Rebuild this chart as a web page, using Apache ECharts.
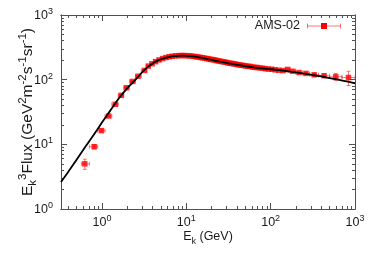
<!DOCTYPE html>
<html><head><meta charset="utf-8">
<script src="https://cdn.jsdelivr.net/npm/echarts@6/dist/echarts.min.js"></script>
<style>html,body{margin:0;padding:0;background:#fff}#c{width:374px;height:262px}</style>
</head><body><div id="c"></div><script>
// ---- data (AMS-02 points) ----
const energy = [0.626, 0.809, 0.986, 1.20, 1.44, 1.69, 1.95, 2.31, 2.68, 3.21,
  3.54, 3.92, 4.32, 4.76, 5.24, 5.74, 6.26, 6.80, 7.39, 8.00,
  8.62, 9.28, 9.96, 10.7, 11.4, 12.2, 13.0, 13.8, 14.7, 15.6,
  16.5, 17.5, 18.5, 19.5, 20.6, 21.7, 22.8, 24.0, 25.2, 26.6,
  27.9, 29.4, 31.0, 32.7, 34.4, 36.3, 38.3, 40.5, 42.8, 45.3,
  47.9, 50.8, 53.9, 57.3, 61.0, 65.1, 69.6, 74.7, 80.3, 86.7,
  94.0, 102.6, 113, 125, 140,
  159, 183, 217, 262, 328, 430, 592, 837];
const flux = [5.0, 9.2, 16.3, 27.4, 41.6, 57.2, 75, 94, 113, 139,
  162, 176, 190, 202, 212, 220, 226, 230, 233, 235,
  236, 236, 235, 234, 232, 229, 227, 224, 221, 218,
  215, 212, 209, 206, 204, 201, 198, 195, 193, 190,
  188, 186, 182, 180, 178, 176, 174, 171, 169, 167,
  165, 163, 161, 160, 157, 155, 154, 152, 150, 148,
  146, 145, 142, 140, 138,
  144, 135, 129, 125, 119, 115, 111, 108];
const fluxErr = [0.9, 0.7, 0.9, 1.0, 1.3, 1.5, 1.8, 2.0, 2.3, 2.7,
  3, 3, 3, 3, 3, 3, 3, 3, 3, 3,
  3, 3, 3, 3, 3, 3, 3, 3, 3, 3,
  3, 3, 3, 3, 3, 3, 3, 3, 3, 3,
  3, 3, 3, 3, 3, 3, 3, 3, 3, 3,
  3, 3, 3, 3, 3, 3, 3, 3, 3, 3,
  3, 3, 4, 4, 4,
  5, 4, 4, 5, 6, 7, 14, 27];
const binEdges = [0.57, 0.71, 0.89, 1.09, 1.31, 1.56, 1.82, 2.12, 2.49, 2.93, 3.36,
  3.73, 4.12, 4.54, 5.0, 5.49, 6.0, 6.54, 7.1, 7.69, 8.3,
  8.95, 9.62, 10.32, 11.04, 11.8, 12.59, 13.41, 14.25, 15.14, 16.05,
  17.0, 17.98, 18.99, 20.04, 21.13, 22.25, 23.42, 24.62, 25.9, 27.25,
  28.68, 30.21, 31.82, 33.53, 35.36, 37.31, 39.39, 41.61, 44.0, 46.57,
  49.33, 52.33, 55.58, 59.13, 63.02, 67.3, 72.05, 77.37, 83.36, 90.19,
  98.08, 107.3, 118.4, 132.1, 148.8,
  169.9, 197.7, 237.2, 290.0, 370.0, 500.0, 700.0, 1000.0];
// ---- model curve ----
const modelEnergy = [0.327, 0.4, 0.5, 0.63, 0.8, 1.0, 1.26, 1.58, 2.0, 2.38, 2.7, 3.12, 3.6, 4.0, 4.5, 5.0, 5.6, 6.4, 7.2, 8.0, 9.0, 10, 11.2, 12.6, 14.1, 16, 18, 20, 25, 31.6, 40, 50, 63, 80, 100, 126, 158, 200, 251, 316, 398, 501, 631, 794, 1000];
const modelFlux = [2.62, 3.77, 5.77, 9.0, 14.1, 21.7, 33.5, 51, 74, 93, 112, 138, 162, 178, 195, 207, 217, 226, 231, 234, 235, 234, 231, 227, 222, 215, 208, 202, 190, 179, 169, 162, 155, 149, 145, 140, 135, 130, 124, 118, 112, 106, 100, 94, 88];
// ---- axes ----
const xRange = [0.327, 1000];
const yRange = [1, 1000];
const xMajorTicks = [1, 10, 100, 1000];
const xMinorTicks = [0.4, 0.5, 0.6, 0.7, 0.8, 0.9, 2, 3, 4, 5, 6, 7, 8, 9, 20, 30, 40, 50, 60, 70, 80, 90, 200, 300, 400, 500, 600, 700, 800, 900];
const yMajorTicks = [1, 10, 100, 1000];
const yMinorTicks = [2, 3, 4, 5, 6, 7, 8, 9, 20, 30, 40, 50, 60, 70, 80, 90, 200, 300, 400, 500, 600, 700, 800, 900];
const seriesName = 'AMS-02';

const L = Math.log10;
const FONT = '"Liberation Sans", Arial, sans-serif';
const TXT = '#1a1a1a';
const FRAME = '#505050';

const labelRich = {
  b: { fontSize: 12.5, fontFamily: FONT, color: TXT, lineHeight: 14, verticalAlign: 'bottom' },
  s: { fontSize: 9, fontFamily: FONT, color: TXT, lineHeight: 9, padding: [0, 0, 6, 0], verticalAlign: 'bottom' }
};
const nameRich = {
  n: { fontSize: 12.5, fontFamily: FONT, color: TXT, lineHeight: 14, padding: [0, 0, 3, 0], verticalAlign: 'bottom' },
  sub: { fontSize: 9, fontFamily: FONT, color: TXT, lineHeight: 9, verticalAlign: 'bottom' },
  sup: { fontSize: 9, fontFamily: FONT, color: TXT, lineHeight: 9, padding: [0, 0, 9, 0], verticalAlign: 'bottom' }
};
const yNameRich = {
  n: { fontSize: 15.5, fontFamily: FONT, color: TXT, lineHeight: 17, padding: [0, 0, 3, 0], verticalAlign: 'bottom' },
  sub: { fontSize: 11.5, fontFamily: FONT, color: TXT, lineHeight: 11, verticalAlign: 'bottom' },
  sup: { fontSize: 11.5, fontFamily: FONT, color: TXT, lineHeight: 11, padding: [0, 0, 10, 0], verticalAlign: 'bottom' }
};
const fmt = v => '{b|10}{s|' + Math.round(v) + '}';

function mkAxis(dim, gridIndex, position, ticks, len, opts) {
  const range = dim === 'x' ? xRange : yRange;
  const a = {
    type: 'value', gridIndex, position,
    min: L(range[0]), max: L(range[1]),
    splitLine: { show: false },
    axisLine: { show: true, onZero: false, lineStyle: { color: FRAME, width: 1 } },
    axisTick: { show: true, inside: true, length: len, customValues: ticks.map(L), lineStyle: { color: FRAME, width: 1 } },
    axisLabel: { show: false }
  };
  return Object.assign(a, opts || {});
}

const xAxes = [
  mkAxis('x', 0, 'bottom', xMajorTicks, 6, {
    axisLabel: { show: true, customValues: xMajorTicks.map(L), formatter: fmt, rich: labelRich, margin: 6 },
    name: '{n|E}{sub|k}{n| (GeV)}', nameLocation: 'middle', nameGap: 23, nameMoveOverlap: false,
    nameTextStyle: { rich: nameRich }
  }),
  mkAxis('x', 0, 'top', xMajorTicks, 6),
  mkAxis('x', 1, 'bottom', xMinorTicks, 3),
  mkAxis('x', 1, 'top', xMinorTicks, 3)
];
const yAxes = [
  mkAxis('y', 0, 'left', yMajorTicks, 6, {
    axisLabel: { show: true, customValues: yMajorTicks.map(L), formatter: fmt, rich: labelRich, margin: 8 },
    name: '{n|E}{sub|k}{sup|3}{n|Flux (GeV}{sup|2}{n|m}{sup|-2}{n|s}{sup|-1}{n|sr}{sup|-1}{n|)}',
    nameLocation: 'middle', nameGap: 22, nameRotate: 90, nameMoveOverlap: false,
    nameTextStyle: { rich: yNameRich }
  }),
  mkAxis('y', 0, 'right', yMajorTicks, 6),
  mkAxis('y', 1, 'left', yMinorTicks, 3),
  mkAxis('y', 1, 'right', yMinorTicks, 3)
];

const pointData = energy.map((e, i) => [L(e), L(flux[i])]);
const errData = energy.map((e, i) => [L(e), L(flux[i]), L(binEdges[i]), L(binEdges[i + 1]), L(flux[i] - fluxErr[i]), L(flux[i] + fluxErr[i])]);
const modelData = modelEnergy.map((e, i) => [L(e), L(modelFlux[i])]);

const ERR = 'rgba(255,30,30,0.6)';
const gridBox = { left: 61, right: 19, top: 15, bottom: 53, containLabel: false, outerBoundsMode: 'none' };
const chart = echarts.init(document.getElementById('c'), null, { renderer: 'canvas' });
chart.setOption({
  animation: false,
  backgroundColor: '#fff',
  grid: [Object.assign({}, gridBox), Object.assign({}, gridBox)],
  xAxis: xAxes,
  yAxis: yAxes,
  graphic: [
    { type: 'text', right: 74, top: 19, style: { text: seriesName, font: '12.5px ' + FONT, fill: TXT } },
    { type: 'line', shape: { x1: 307, y1: 26, x2: 341, y2: 26 }, style: { stroke: ERR, lineWidth: 1 } },
    { type: 'line', shape: { x1: 307.5, y1: 23.5, x2: 307.5, y2: 28.5 }, style: { stroke: ERR, lineWidth: 1 } },
    { type: 'line', shape: { x1: 340.5, y1: 23.5, x2: 340.5, y2: 28.5 }, style: { stroke: ERR, lineWidth: 1 } },
    { type: 'rect', shape: { x: 321, y: 23, width: 6, height: 6 }, style: { fill: '#ff0000' } }
  ],
  series: [
    {
      type: 'custom', name: seriesName, xAxisIndex: 0, yAxisIndex: 0, z: 2, clip: true,
      data: errData,
      renderItem: (params, api) => {
        const x = api.value(0), y = api.value(1);
        const c = api.coord([x, y]);
        const pl = api.coord([api.value(2), y]), ph = api.coord([api.value(3), y]);
        const pb = api.coord([x, api.value(4)]), pt = api.coord([x, api.value(5)]);
        const cap = 2;
        const st = { stroke: ERR, lineWidth: 1, fill: null };
        return { type: 'group', children: [
          { type: 'line', shape: { x1: pl[0], y1: c[1], x2: ph[0], y2: c[1] }, style: st },
          { type: 'line', shape: { x1: pl[0], y1: c[1] - cap, x2: pl[0], y2: c[1] + cap }, style: st },
          { type: 'line', shape: { x1: ph[0], y1: c[1] - cap, x2: ph[0], y2: c[1] + cap }, style: st },
          { type: 'line', shape: { x1: c[0], y1: pb[1], x2: c[0], y2: pt[1] }, style: st },
          { type: 'line', shape: { x1: c[0] - cap, y1: pb[1], x2: c[0] + cap, y2: pb[1] }, style: st },
          { type: 'line', shape: { x1: c[0] - cap, y1: pt[1], x2: c[0] + cap, y2: pt[1] }, style: st }
        ] };
      }
    },
    {
      type: 'scatter', name: seriesName, xAxisIndex: 0, yAxisIndex: 0, z: 3,
      symbol: 'rect', symbolSize: 5.5, itemStyle: { color: '#ff0000' },
      data: pointData
    },
    {
      type: 'line', name: 'model', xAxisIndex: 0, yAxisIndex: 0, z: 4,
      showSymbol: false, symbol: 'none', smooth: 0.3,
      lineStyle: { color: '#000', width: 1.8 },
      data: modelData
    }
  ]
});
</script></body></html>
